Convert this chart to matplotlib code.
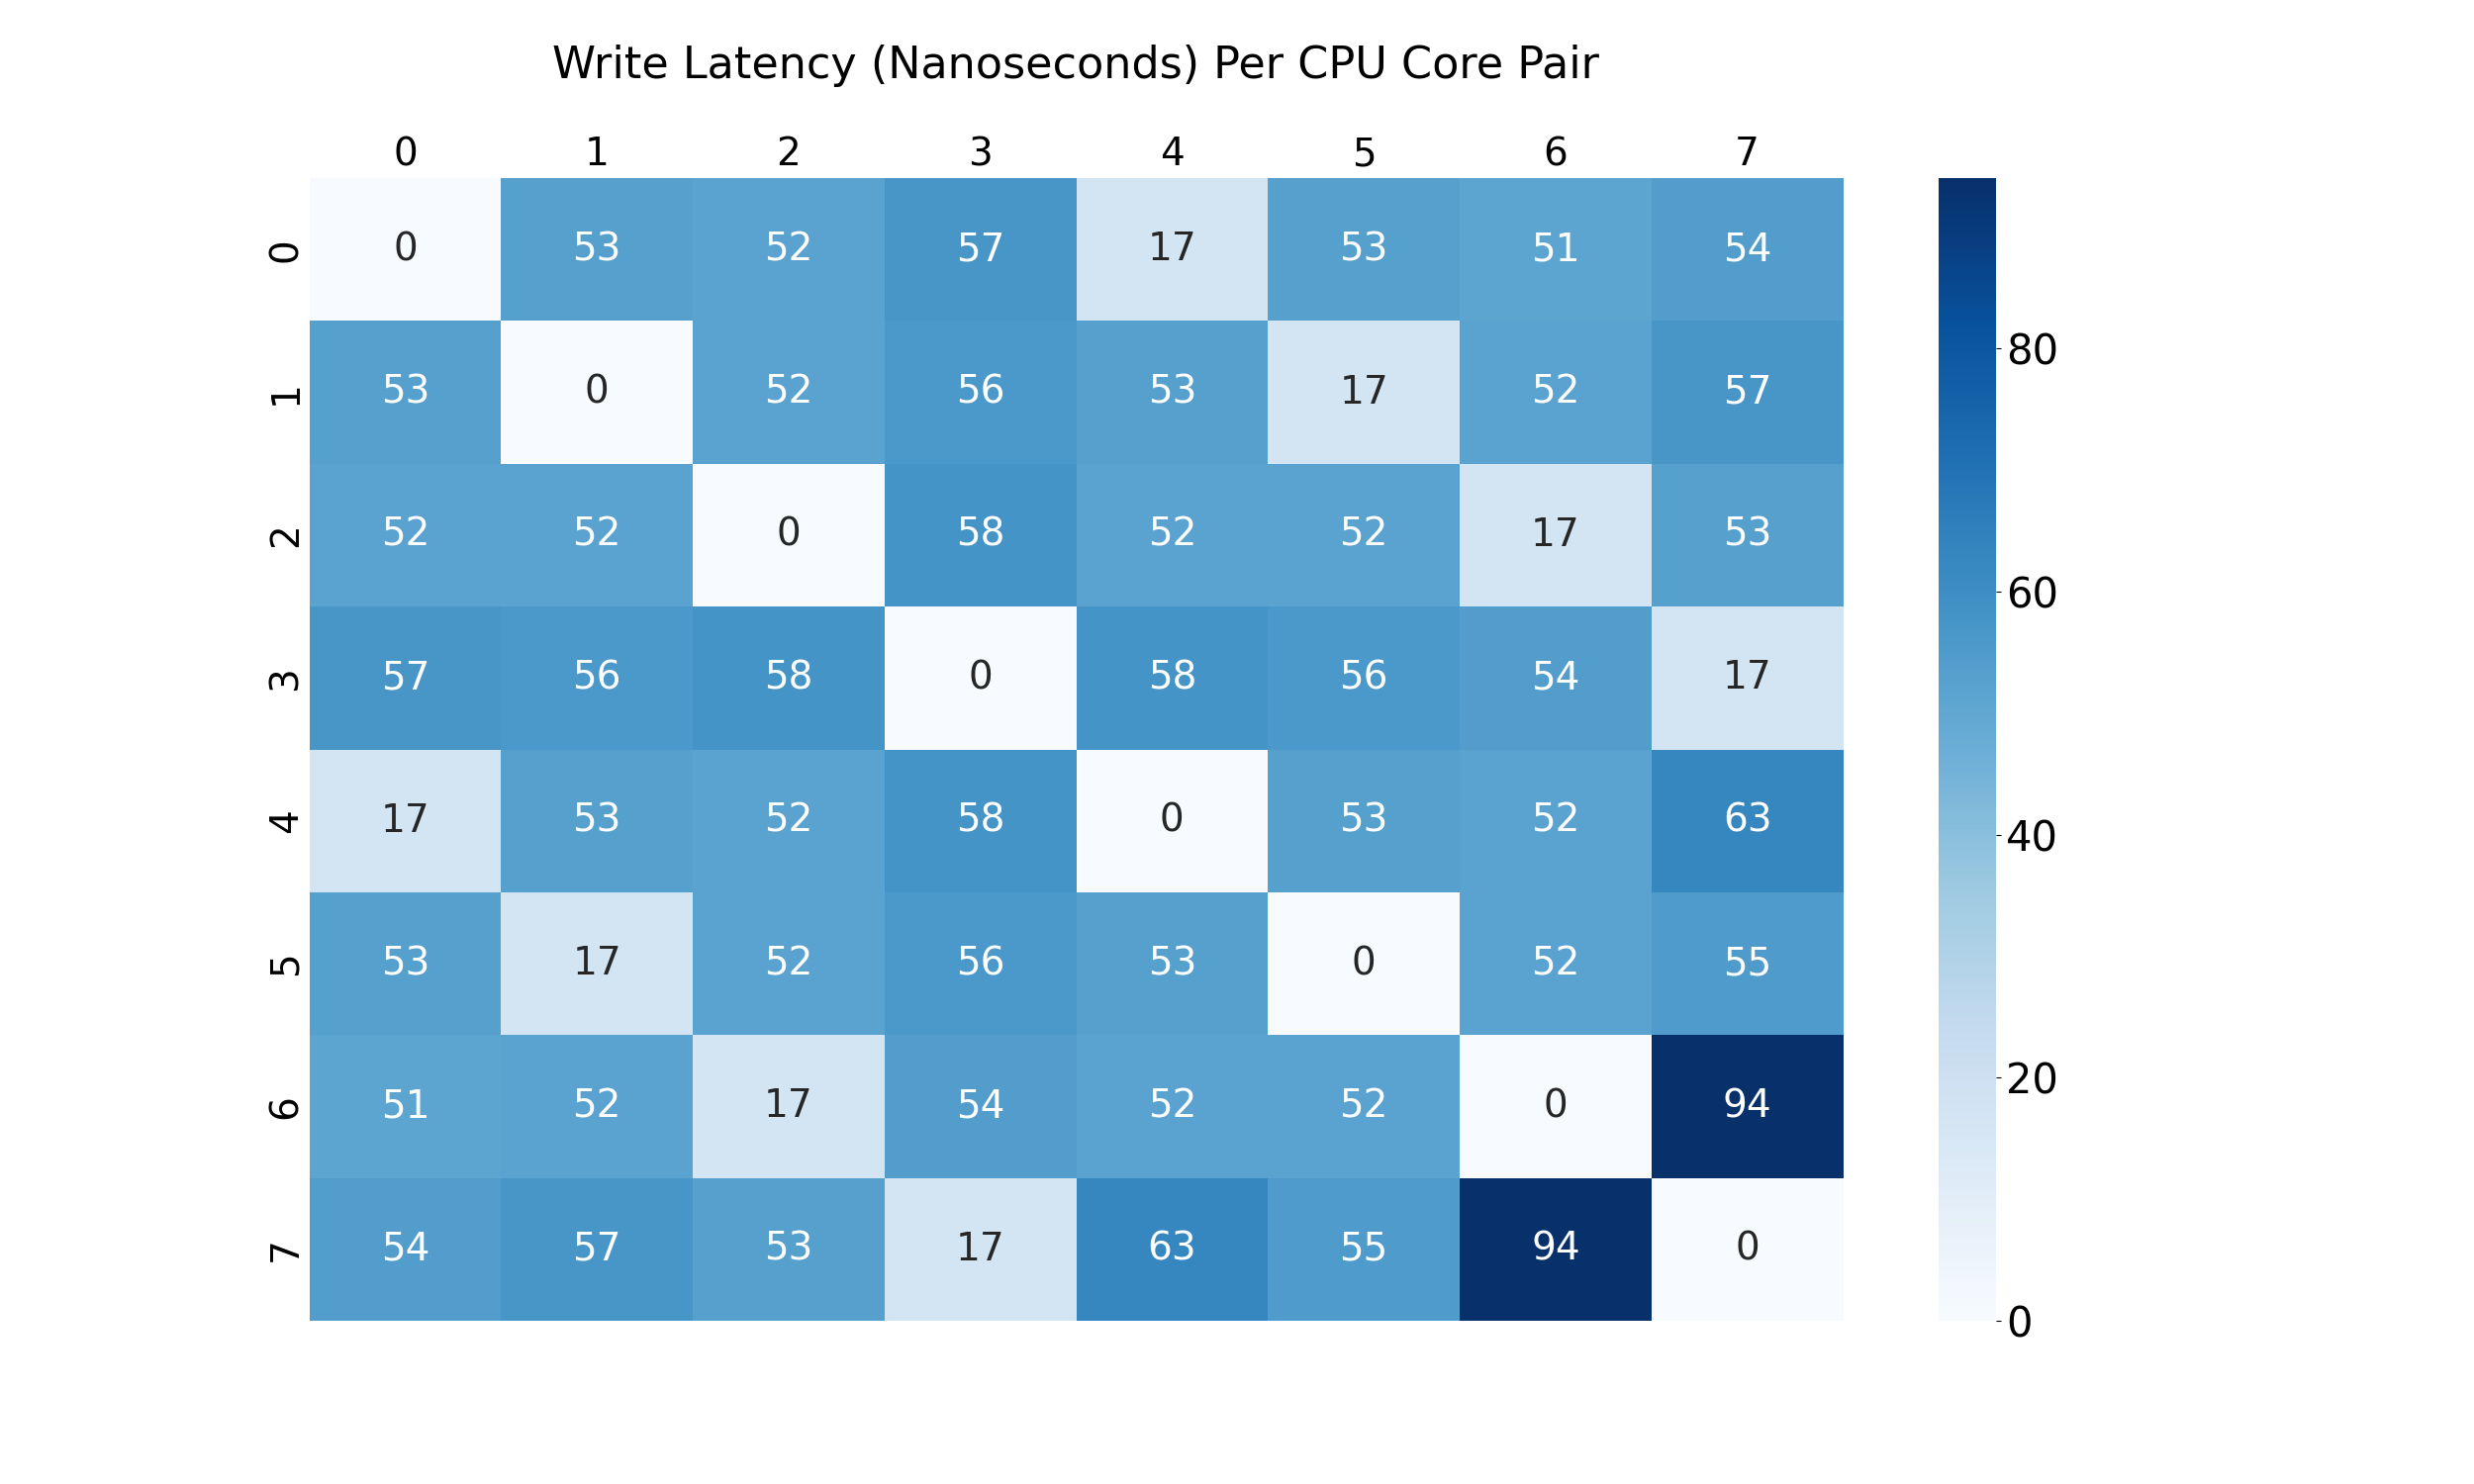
import matplotlib
matplotlib.use("Agg")
import matplotlib.pyplot as plt
import numpy as np
import seaborn as sns

cores = [0, 1, 2, 3, 4, 5, 6, 7]
row0 = [0, 53, 52, 57, 17, 53, 51, 54]
row1 = [53, 0, 52, 56, 53, 17, 52, 57]
row2 = [52, 52, 0, 58, 52, 52, 17, 53]
row3 = [57, 56, 58, 0, 58, 56, 54, 17]
row4 = [17, 53, 52, 58, 0, 53, 52, 63]
row5 = [53, 17, 52, 56, 53, 0, 52, 55]
row6 = [51, 52, 17, 54, 52, 52, 0, 94]
row7 = [54, 57, 53, 17, 63, 55, 94, 0]
title = "Write Latency (Nanoseconds) Per CPU Core Pair"

data = np.array([row0, row1, row2, row3, row4, row5, row6, row7])

fig, ax = plt.subplots(figsize=(25, 15), dpi=100)
sns.heatmap(data, annot=True, fmt="d", cmap="Blues", ax=ax,
            xticklabels=cores, yticklabels=cores,
            annot_kws={"size": 28})
ax.xaxis.tick_top()
ax.tick_params(axis="both", length=0, labelsize=28, pad=3.5)
for lbl in ax.get_yticklabels():
    lbl.set_rotation(90)
    lbl.set_va("center")
cbar = ax.collections[0].colorbar
cbar.ax.tick_params(labelsize=30)
ax.set_title(title, fontsize=32, pad=73)
fig.savefig("out.png", dpi=100)
